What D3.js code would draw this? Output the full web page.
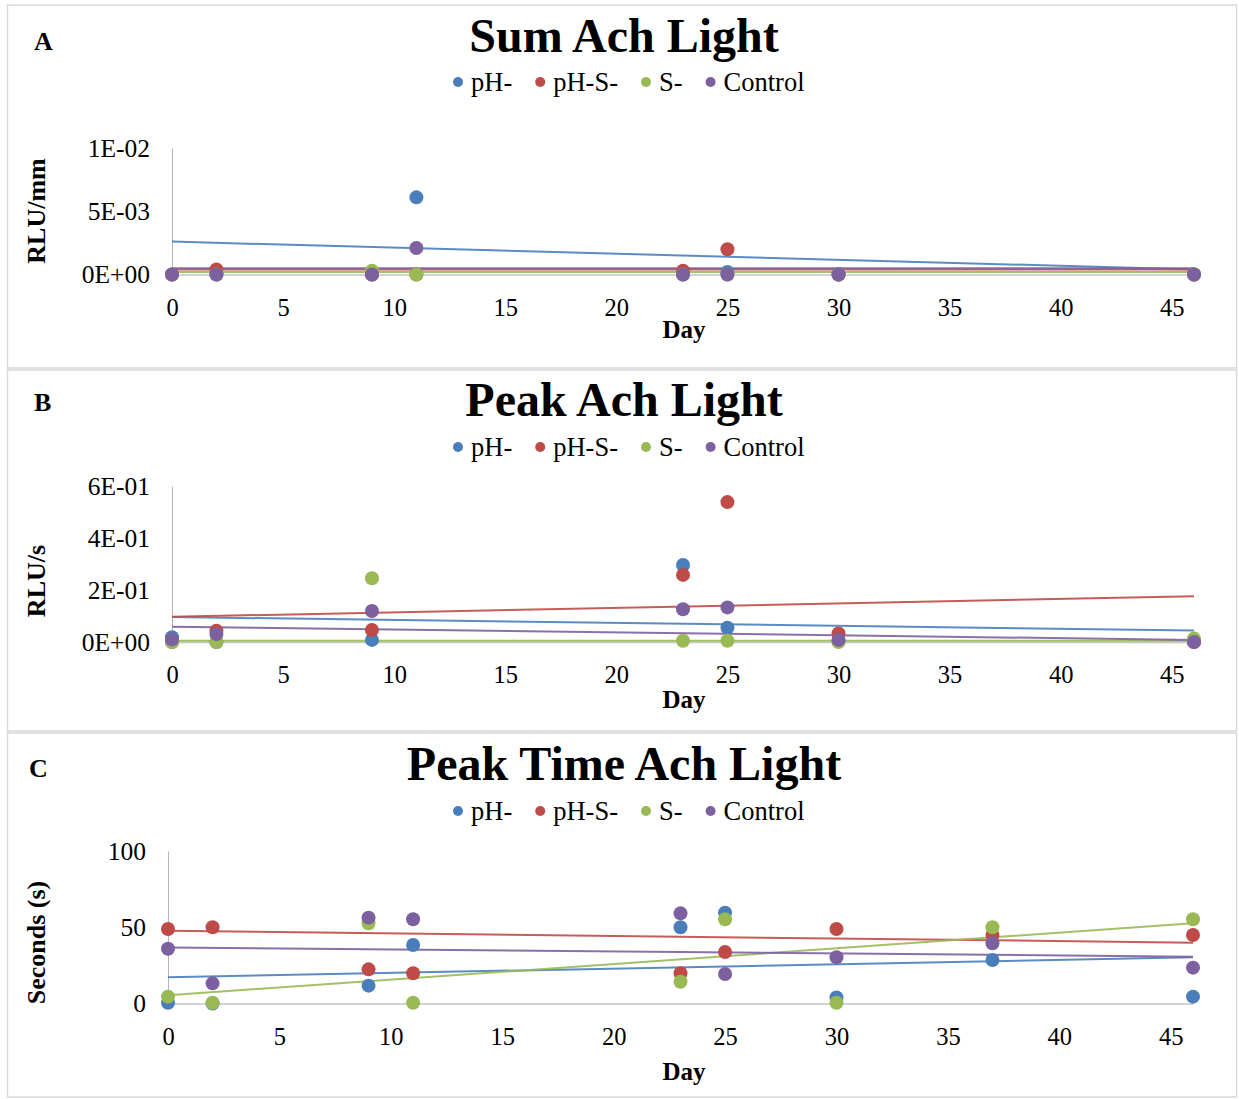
<!DOCTYPE html>
<html>
<head>
<meta charset="utf-8">
<script src="https://cdn.jsdelivr.net/npm/d3@7"></script>
<style>
  body { margin: 0; background: #fff; }
  svg text { font-family: "Liberation Serif", "Times New Roman", serif; fill: #000; }
</style>
</head>
<body>
<svg id="chart" width="1239" height="1099"></svg>
<script>
var seriesNames = ["pH-", "pH-S-", "S-", "Control"];
var seriesColors = ["#4a7ebb", "#be4b48", "#98b954", "#7d60a0"];
var dayTicks = [0, 5, 10, 15, 20, 25, 30, 35, 40, 45];

// A - Sum Ach Light (RLU/mm)
var sumDays = [0, 2, 9, 11, 23, 25, 30, 46];
var sumPH      = [0, 0, 0, 0.0061, 0, 0.0002, 0, 0];
var sumPHS     = [0, 0.0004, 0, 0, 0.0003, 0.0020, 0, 0];
var sumS       = [0, 0, 0.0003, 0, 0, 0, 0, 0];
var sumControl = [0, 0, 0, 0.0021, 0, 0, 0, 0];
var sumTicks = [0, 0.005, 0.01];
var sumTickLabels = ["0E+00", "5E-03", "1E-02"];
// linear trendlines, value at first day / last day
var sumTrendStart = [0.0026, 0.0004, 0.0002, 0.0005];
var sumTrendEnd   = [0.0004, 0.0004, 0.0002, 0.0005];

// B - Peak Ach Light (RLU/s)
var peakDays = [0, 2, 9, 23, 25, 30, 46];
var peakPH      = [0.018, 0, 0.008, 0.296, 0.055, 0.005, 0.002];
var peakPHS     = [0, 0.043, 0.046, 0.258, 0.538, 0.033, 0];
var peakS       = [0, 0, 0.245, 0.005, 0.005, 0, 0.013];
var peakControl = [0.010, 0.031, 0.119, 0.126, 0.133, 0.008, 0];
var peakTicks = [0, 0.2, 0.4, 0.6];
var peakTickLabels = ["0E+00", "2E-01", "4E-01", "6E-01"];
var peakTrendStart = [0.096, 0.097, 0.005, 0.059];
var peakTrendEnd   = [0.044, 0.176, 0.005, 0.008];

// C - Peak Time Ach Light (s)
var timeDays = [0, 2, 9, 11, 23, 25, 30, 37, 46];
var timePH      = [0.5, 0, 11.7, 38.4, 50, 59.5, 4, 28.5, 4.5];
var timePHS     = [48.9, 50, 22.4, 19.8, 19.8, 33.8, 48.9, 44.9, 44.9];
var timeS       = [4.5, 0.5, 52.6, 0.5, 14.3, 55.2, 0.5, 50, 55.2];
var timeControl = [35.9, 13.2, 56.3, 55.2, 59.1, 19.3, 30.3, 39.5, 23.5];
var timeTicks = [0, 50, 100];
var timeTickLabels = ["0", "50", "100"];
var timeTrendStart = [17.2, 47.7, 5.4, 36.8];
var timeTrendEnd   = [30.3, 39.9, 52.6, 30.7];

var panels = [
  { letter: "A", title: "Sum Ach Light", yLabel: "RLU/mm", days: sumDays,
    values: [sumPH, sumPHS, sumS, sumControl], ticks: sumTicks, tickLabels: sumTickLabels,
    trendStart: sumTrendStart, trendEnd: sumTrendEnd,
    top: 5, bottom: 368, letterY: 50, titleY: 52, legendY: 82, dayY: 338, yLabelY: 211,
    x0: 172, x1: 1194, yBase: 274.5, yTop: 148, letterX: 34 },
  { letter: "B", title: "Peak Ach Light", yLabel: "RLU/s", days: peakDays,
    values: [peakPH, peakPHS, peakS, peakControl], ticks: peakTicks, tickLabels: peakTickLabels,
    trendStart: peakTrendStart, trendEnd: peakTrendEnd,
    top: 370, bottom: 731, letterY: 411, titleY: 416, legendY: 447, dayY: 708, yLabelY: 581,
    x0: 172, x1: 1194, yBase: 642, yTop: 486, letterX: 34 },
  { letter: "C", title: "Peak Time Ach Light", yLabel: "Seconds (s)", days: timeDays,
    values: [timePH, timePHS, timeS, timeControl], ticks: timeTicks, tickLabels: timeTickLabels,
    trendStart: timeTrendStart, trendEnd: timeTrendEnd,
    top: 733, bottom: 1097, letterY: 777, titleY: 780, legendY: 811, dayY: 1080, yLabelY: 942.5,
    x0: 168, x1: 1193, yBase: 1003.5, yTop: 851, letterX: 29 }
];

var svg = d3.select("#chart");

panels.forEach(function(p) {
    var g = svg.append("g");

    // panel frame
    g.append("rect")
        .attr("x", 7.5).attr("y", p.top)
        .attr("width", 1229).attr("height", p.bottom - p.top)
        .attr("fill", "none").attr("stroke", "#d9d9d9").attr("stroke-width", 1.5);

    g.append("text")
        .attr("x", p.letterX).attr("y", p.letterY)
        .attr("font-size", 26).attr("font-weight", "bold")
        .text(p.letter);

    g.append("text")
        .attr("x", 624).attr("y", p.titleY)
        .attr("text-anchor", "middle")
        .attr("font-size", 48).attr("font-weight", "bold")
        .text(p.title);

    // legend
    var lx = 458;
    seriesNames.forEach(function(name, i) {
        g.append("circle")
            .attr("cx", lx).attr("cy", p.legendY).attr("r", 5)
            .attr("fill", seriesColors[i]);
        var t = g.append("text")
            .attr("x", lx + 13).attr("y", p.legendY + 9)
            .attr("font-size", 26.5)
            .text(name);
        lx += 13 + t.node().getComputedTextLength() + 28;
    });

    var x = d3.scaleLinear().domain([0, 46]).range([p.x0, p.x1]);
    var y = d3.scaleLinear().domain([0, p.ticks[p.ticks.length - 1]]).range([p.yBase, p.yTop]);

    // axes
    var xAxis = g.append("g")
        .attr("transform", "translate(0," + p.yBase + ")")
        .call(d3.axisBottom(x).tickValues(dayTicks).tickSize(0).tickPadding(24));
    xAxis.select(".domain").attr("stroke", "#c4c4c4").attr("stroke-width", 1.5);
    xAxis.selectAll("text").attr("font-size", 24.5).attr("font-family", null);

    var yAxis = g.append("g")
        .attr("transform", "translate(" + p.x0 + ",0)")
        .call(d3.axisLeft(y).tickValues(p.ticks).tickSize(0).tickPadding(22)
            .tickFormat(function(d, i) { return p.tickLabels[i]; }));
    yAxis.select(".domain").attr("stroke", "#b5b5b5").attr("stroke-width", 1);
    yAxis.selectAll("text").attr("font-size", 25.5).attr("font-family", null);

    g.append("text")
        .attr("x", 684).attr("y", p.dayY)
        .attr("text-anchor", "middle")
        .attr("font-size", 25).attr("font-weight", "bold")
        .text("Day");

    g.append("text")
        .attr("transform", "translate(45," + p.yLabelY + ") rotate(-90)")
        .attr("text-anchor", "middle")
        .attr("font-size", 26).attr("font-weight", "bold")
        .text(p.yLabel);

    // trendlines
    var d0 = p.days[0], d1 = p.days[p.days.length - 1];
    var line = d3.line().x(function(d) { return x(d[0]); }).y(function(d) { return y(d[1]); });
    seriesNames.forEach(function(name, i) {
        g.append("path")
            .datum([[d0, p.trendStart[i]], [d1, p.trendEnd[i]]])
            .attr("d", line)
            .attr("fill", "none")
            .attr("stroke", seriesColors[i])
            .attr("stroke-width", 2)
            .attr("stroke-opacity", 0.9);
    });

    // points
    seriesNames.forEach(function(name, i) {
        g.append("g").selectAll("circle")
            .data(p.values[i])
            .enter().append("circle")
            .attr("cx", function(d, j) { return x(p.days[j]); })
            .attr("cy", function(d) { return y(d); })
            .attr("r", 7)
            .attr("fill", seriesColors[i]);
    });
});
</script>
</body>
</html>
